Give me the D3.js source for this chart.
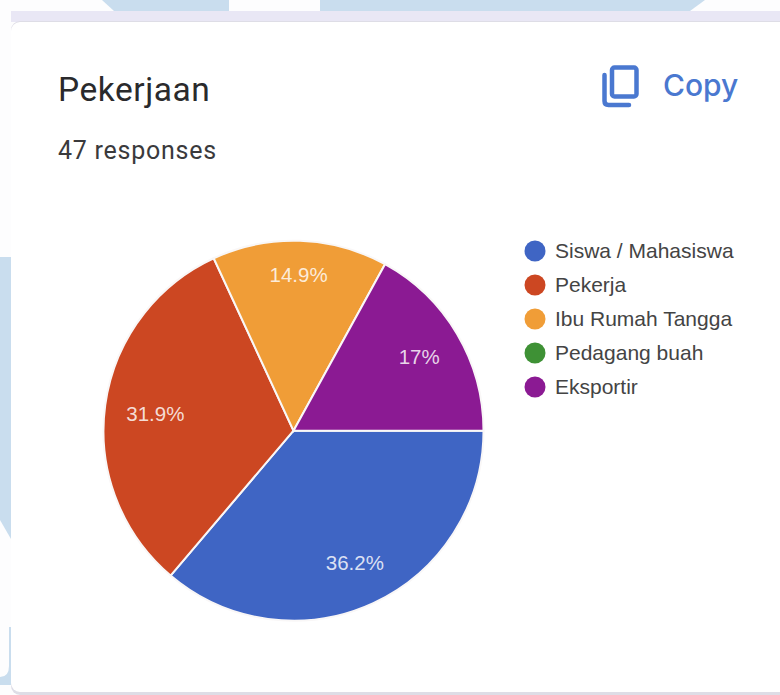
<!DOCTYPE html>
<html>
<head>
<meta charset="utf-8">
<script src="https://cdn.jsdelivr.net/npm/d3@7"></script>
<style>
  html, body { margin: 0; padding: 0; background: #fdfdfe; }
  svg { display: block; }
</style>
</head>
<body>
<svg id="chart" width="780" height="695"></svg>
<script>
// Survey answers for "Pekerjaan", in percent of the 47 responses
const categories = ["Siswa / Mahasiswa", "Pekerja", "Ibu Rumah Tangga", "Pedagang buah", "Eksportir"];
const percents = [36.2, 31.9, 14.9, 0, 17];
const percentLabels = ["36.2%", "31.9%", "14.9%", "", "17%"];
const sliceColors = ["#3f65c4", "#cc4722", "#f09d37", "#3e9135", "#8b1a93"];

const svg = d3.select("#chart");

// Page backdrop behind the card
const backdrop = svg.append("g");
backdrop.append("path").attr("fill", "#c9ddee").attr("d", "M102,0L114,11H229V0Z");
backdrop.append("path").attr("fill", "#c9ddee").attr("d", "M320,0V11H690L705,0Z");
backdrop.append("path").attr("fill", "#c9ddee").attr("d", "M0,257H11V539L0,520Z");
backdrop.append("path").attr("fill", "#c9ddee")
  .attr("d", "M9,627H11V685H0V677Q9,677 9,666Z");
backdrop.append("rect").attr("x", 11).attr("y", 11).attr("width", 769).attr("height", 11).attr("fill", "#e9e7f5");

// Card
svg.append("rect").attr("x", 11).attr("y", 21).attr("width", 800).attr("height", 674).attr("rx", 9)
  .attr("fill", "#dedde6");
svg.append("rect").attr("x", 11).attr("y", 22).attr("width", 800).attr("height", 670).attr("rx", 9)
  .attr("fill", "#ffffff");

// Heading
svg.append("text").text("Pekerjaan")
  .attr("x", 58).attr("y", 101)
  .attr("font-family", "Roboto").attr("font-size", 33.5).attr("letter-spacing", 0.55).attr("fill", "#2a2a2c");
svg.append("text").text("47 responses")
  .attr("x", 58).attr("y", 159)
  .attr("font-family", "Roboto").attr("font-size", 25).attr("letter-spacing", 0.75).attr("fill", "#3a3a3c");

// Copy action
const copyColor = "#4a78d0";
svg.append("path")
  .attr("d", "M604.5,75V101Q604.5,105 608.5,105H629")
  .attr("fill", "none").attr("stroke", copyColor).attr("stroke-width", 4.5).attr("stroke-linecap", "round");
svg.append("rect").attr("x", 612).attr("y", 67.5).attr("width", 24.5).attr("height", 29).attr("rx", 2.5)
  .attr("fill", "none").attr("stroke", copyColor).attr("stroke-width", 4.5);
svg.append("text").text("Copy")
  .attr("x", 663).attr("y", 96)
  .attr("font-family", "Inter").attr("font-weight", 500).attr("font-size", 30).attr("fill", copyColor);

// Pie, running clockwise from three o'clock
const pieCenter = [293.5, 430.7];
const pieRadius = 190;
const labelRadius = 146;

const pie = d3.pie().sort(null).startAngle(Math.PI / 2).endAngle(Math.PI * 2.5);
const arc = d3.arc().innerRadius(0).outerRadius(pieRadius);
const labelArc = d3.arc().innerRadius(labelRadius).outerRadius(labelRadius);
const arcs = pie(percents);

const plot = svg.append("g").attr("transform", `translate(${pieCenter})`);

plot.selectAll("path")
  .data(arcs.filter(d => d.value > 0))
  .join("path")
  .attr("d", arc)
  .attr("fill", d => sliceColors[d.index])
  .attr("stroke", "#f9f7f7")
  .attr("stroke-width", 2);

// Labels sit on one ring; the narrow slices get pushed outward a little
const labelShift = { "31.9%": [6.5, 3], "14.9%": [0, -10] };

plot.selectAll("text")
  .data(arcs.filter(d => d.value > 0))
  .join("text")
  .text(d => percentLabels[d.index])
  .attr("transform", d => {
    const [x, y] = labelArc.centroid(d);
    const [sx, sy] = labelShift[percentLabels[d.index]] || [0, 0];
    return `translate(${x + sx},${y + sy})`;
  })
  .attr("text-anchor", "middle")
  .attr("dy", "0.35em")
  .attr("font-family", "Liberation Sans")
  .attr("font-size", 20.5)
  .attr("fill", "#ffffff")
  .attr("fill-opacity", 0.82);

// Legend
const legendY = d3.scalePoint().domain(categories).range([251, 387]);

const legend = svg.append("g").selectAll("g")
  .data(categories)
  .join("g")
  .attr("transform", d => `translate(0,${legendY(d)})`);

legend.append("circle")
  .attr("cx", 535).attr("r", 10.5)
  .attr("fill", (d, i) => sliceColors[i]);

legend.append("text")
  .text(d => d)
  .attr("x", 555)
  .attr("dy", "0.35em")
  .attr("font-family", "Liberation Sans")
  .attr("font-size", 21)
  .attr("fill", "#444444");
</script>
</body>
</html>
